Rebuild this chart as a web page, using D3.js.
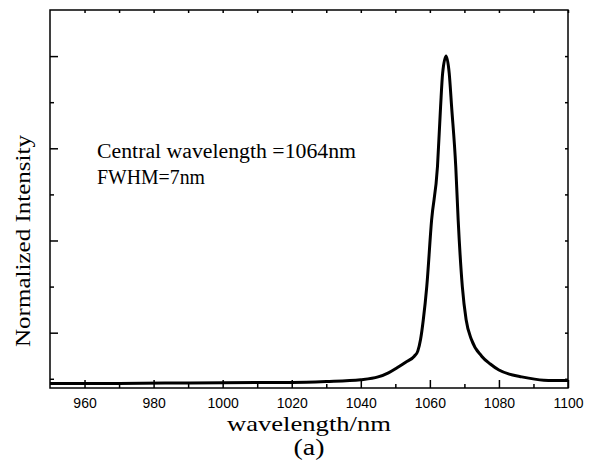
<!DOCTYPE html>
<html>
<head>
<meta charset="utf-8">
<script src="https://cdn.jsdelivr.net/npm/d3@7"></script>
<style>
  body { margin: 0; background: #fff; }
  .axis path, .axis line { stroke: #000; stroke-width: 1.5; }
  .axis text { font-family: "Liberation Sans", Arial, sans-serif; font-size: 14px; fill: #000; }
  .serif { font-family: "Liberation Serif", "Times New Roman", serif; fill: #000; }
</style>
</head>
<body>
<div id="chart"></div>
<script>
// wavelength (nm) and normalized intensity
const wavelength = [950, 970, 990, 1010, 1020, 1030, 1040, 1045, 1048, 1050.5, 1053, 1055.5, 1056.5, 1057.3,
  1058.1, 1059.1, 1060.5, 1062.2, 1063.1, 1063.7, 1064.7, 1065.6, 1066.3, 1067.5, 1068.2, 1069.4,
  1070.5, 1072.1, 1075, 1077.5, 1080, 1083, 1086, 1093, 1100];
const intensity = [0.290, 0.290, 0.291, 0.292, 0.292, 0.294, 0.298, 0.304, 0.313, 0.324, 0.336, 0.349, 0.360, 0.385,
  0.428, 0.500, 0.644, 0.760, 0.890, 0.963, 1.0, 0.963, 0.890, 0.760, 0.644, 0.500,
  0.428, 0.384, 0.349, 0.332, 0.319, 0.310, 0.305, 0.297, 0.296];

const xMajorTicks = [960, 980, 1000, 1020, 1040, 1060, 1080, 1100];
const xMinorTicks = [970, 990, 1010, 1030, 1050, 1070, 1090];
const yMajorTicks = [0.4, 0.6, 0.8, 1.0];
const yMinorTicks = [0.3, 0.5, 0.7, 0.9];
const annotation = ["Central wavelength =1064nm", "FWHM=7nm"];
const annotationWidth = [259, 108];

const margin = {top: 10, right: 24, bottom: 84, left: 50},
    width = 592 - margin.left - margin.right,
    height = 472 - margin.top - margin.bottom;

const svg = d3.select("#chart").append("svg")
  .attr("width", 592)
  .attr("height", 472);

const g = svg.append("g")
  .attr("transform", "translate(" + margin.left + "," + margin.top + ")");

const x = d3.scaleLinear().domain([950, 1100]).range([0, width]);
const y = d3.scaleLinear().domain([0.28, 1.1]).range([height, 0]);

// bottom axis, ticks pointing inward
g.append("g").attr("class", "axis")
  .attr("transform", "translate(0," + height + ")")
  .call(d3.axisBottom(x).tickValues(xMajorTicks).tickSize(-8).tickPadding(10).tickFormat(d3.format("d")));
g.append("g").attr("class", "axis minor")
  .attr("transform", "translate(0," + height + ")")
  .call(d3.axisBottom(x).tickValues(xMinorTicks).tickSize(-4).tickFormat(""));

// top axis, small ticks
g.append("g").attr("class", "axis minor")
  .call(d3.axisTop(x).tickValues(xMajorTicks.concat(xMinorTicks)).tickSize(-3).tickFormat(""));

// left axis, no labels
g.append("g").attr("class", "axis")
  .call(d3.axisLeft(y).tickValues(yMajorTicks).tickSize(-8).tickFormat(""));
g.append("g").attr("class", "axis minor")
  .call(d3.axisLeft(y).tickValues(yMinorTicks).tickSize(-4).tickFormat(""));

// right axis, small ticks
g.append("g").attr("class", "axis minor")
  .attr("transform", "translate(" + width + ",0)")
  .call(d3.axisRight(y).tickValues(yMajorTicks.concat(yMinorTicks)).tickSize(-3).tickFormat(""));

g.selectAll(".axis .domain").remove();

// frame
g.append("rect")
  .attr("width", width)
  .attr("height", height)
  .attr("fill", "none")
  .attr("stroke", "#000")
  .attr("stroke-width", 1.5);

const line = d3.line()
  .x(function(d, i) { return x(wavelength[i]); })
  .y(function(d) { return y(d); })
  .curve(d3.curveMonotoneX);

g.append("path")
  .datum(intensity)
  .attr("fill", "none")
  .attr("stroke", "#000")
  .attr("stroke-width", 3)
  .attr("stroke-linejoin", "round")
  .attr("d", line);

// annotation
g.selectAll(".note")
  .data(annotation)
  .enter().append("text")
  .attr("class", "serif note")
  .attr("x", 47)
  .attr("y", function(d, i) { return 148 + i * 26; })
  .attr("textLength", function(d, i) { return annotationWidth[i]; })
  .attr("lengthAdjust", "spacingAndGlyphs")
  .style("font-size", "20px")
  .text(function(d) { return d; });

// axis titles
svg.append("text").attr("class", "serif")
  .attr("x", margin.left + width / 2).attr("y", 431)
  .attr("text-anchor", "middle")
  .attr("textLength", 164)
  .attr("lengthAdjust", "spacingAndGlyphs")
  .style("font-size", "21px")
  .text("wavelength/nm");

svg.append("text").attr("class", "serif")
  .attr("x", margin.left + width / 2).attr("y", 455)
  .attr("text-anchor", "middle")
  .attr("textLength", 31)
  .attr("lengthAdjust", "spacingAndGlyphs")
  .style("font-size", "23px")
  .text("(a)");

svg.append("text").attr("class", "serif")
  .attr("transform", "translate(30,241) rotate(-90)")
  .attr("text-anchor", "middle")
  .attr("textLength", 212)
  .attr("lengthAdjust", "spacingAndGlyphs")
  .style("font-size", "21px")
  .text("Normalized Intensity");
</script>
</body>
</html>
